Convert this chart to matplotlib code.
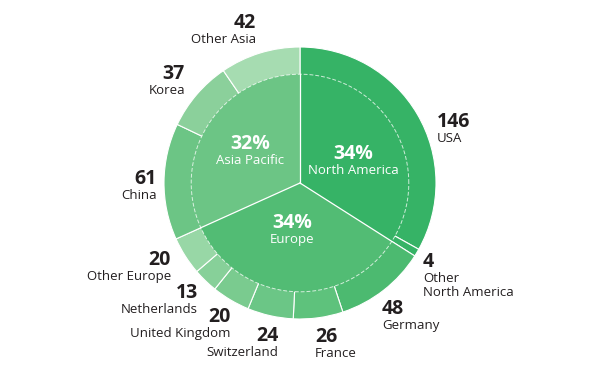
import numpy as np
import matplotlib.pyplot as plt

plt.rcParams["font.family"] = ["Open Sans", "DejaVu Sans"]

# --- data ---
regions = ["North America", "Europe", "Asia Pacific"]
region_pct = ["34%", "34%", "32%"]
countries = ["USA", "Other\nNorth America", "Germany", "France", "Switzerland",
             "United Kingdom", "Netherlands", "Other Europe", "China", "Korea", "Other Asia"]
country_values = [146, 4, 48, 26, 24, 20, 13, 20, 61, 37, 42]
country_region = [0, 0, 1, 1, 1, 1, 1, 1, 2, 2, 2]

region_colors = ["#36b366", "#52bc74", "#6cc585"]
country_colors = ["#36b366", "#36b366", "#4cba70", "#5ec27c", "#6bc686",
                  "#7acb8f", "#87d099", "#98d7a6", "#6cc585", "#8bd09b", "#a6dcb1"]

# label layout: (angle shift from wedge middle in deg, radius) of the number baseline
outer_label_pos = [(-8.2, 1.088), (-3.5, 1.096), (-6.0, 1.137), (-2.4, 1.174),
                   (4.8, 1.173), (4.2, 1.141), (2.5, 1.130), (-0.1, 1.124),
                   (1.0, 1.051), (-1.5, 1.140), (-1.2, 1.184)]
outer_label_ha = ["left", "left", "left", "left", "right", "right", "right",
                  "right", "right", "right", "right"]
inner_label_pos = [(-4.4, 0.427), (-5.9, 0.336), (-1.3, 0.445)]

DARK = "#231f20"
R_IN = 0.8
PX = 72 / 100  # points per pixel

fig = plt.figure(figsize=(6, 3.74), dpi=100)
ax = fig.add_axes([0, 0, 1, 1])

region_values = [sum(v for v, r in zip(country_values, country_region) if r == i)
                 for i in range(len(regions))]

# outer ring (full wedges, centre part covered by the inner pie)
wedges, _ = ax.pie(country_values, radius=1, startangle=90, counterclock=False,
                   colors=country_colors,
                   wedgeprops=dict(edgecolor="white", linewidth=0.8))
inner, _ = ax.pie(region_values, radius=R_IN, startangle=90, counterclock=False,
                  colors=region_colors, wedgeprops=dict(linewidth=0))
ax.set_xlim(-300 / 136, 300 / 136)
ax.set_ylim(-191 / 136, 183 / 136)
ax.set_aspect("auto")
ax.axis("off")

# dashed circle between inner pie and ring
t = np.linspace(0, 2 * np.pi, 400)
ax.plot(R_IN * np.cos(t), R_IN * np.sin(t), color="white", lw=0.7,
        ls=(0, (4, 2)), alpha=0.75)

# region boundaries inside the inner pie
for w in inner:
    a = np.deg2rad(w.theta1)
    ax.plot([0, R_IN * np.cos(a)], [0, R_IN * np.sin(a)], color="white", lw=0.9)

# inner labels
for w, name, pct, (da, r) in zip(inner, regions, region_pct, inner_label_pos):
    a = np.deg2rad((w.theta1 + w.theta2) / 2 + da)
    xy = (r * np.cos(a), r * np.sin(a))
    ax.annotate(pct, xy, color="white", fontsize=14, fontweight="bold",
                ha="center", va="baseline")
    ax.annotate(name, xy, xytext=(0, -14.5 * PX), textcoords="offset points",
                color="white", fontsize=9.5, ha="center", va="baseline")

# outer labels
for w, name, val, (da, r), ha in zip(wedges, countries, country_values,
                                     outer_label_pos, outer_label_ha):
    a = np.deg2rad((w.theta1 + w.theta2) / 2 + da)
    xy = (r * np.cos(a), r * np.sin(a))
    ax.annotate(str(val), xy, color=DARK, fontsize=14, fontweight="bold",
                ha=ha, va="baseline")
    for i, line in enumerate(name.split("\n")):
        ax.annotate(line, xy, xytext=(0, -(15 + 14 * i) * PX),
                    textcoords="offset points", color=DARK, fontsize=9.5,
                    ha=ha, va="baseline")

fig.savefig("out.png", dpi=100)
